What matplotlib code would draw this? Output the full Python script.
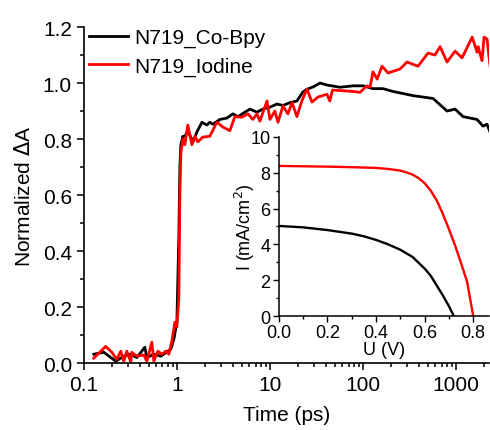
import numpy as np
import matplotlib
matplotlib.use("Agg")
import matplotlib.pyplot as plt

plt.rcParams['font.family'] = ['Liberation Sans', 'DejaVu Sans']

# transient absorption kinetics (time in ps, normalized dA)
t_cobpy = [0.128, 0.164, 0.221, 0.269, 0.320, 0.371, 0.453, 0.476, 0.566, 0.673,
           0.780, 0.861, 0.929, 1.0, 1.05, 1.077, 1.104, 1.16, 1.22, 1.31,
           1.49, 1.64, 1.86, 2.10, 2.26, 2.44, 2.90, 3.45, 4.0, 4.53,
           5.38, 6.1, 7.25, 8.4, 10, 11.9, 13.8, 16.4, 19.5, 22.6,
           25, 29, 34.5, 41, 56.6, 78, 100, 128, 164, 210,
           345, 566, 800, 975, 1190, 1680, 1950, 2150, 2320]
a_cobpy = [0.032, 0.039, 0.007, 0.025, 0.032, 0.02, 0.057, 0.02, 0.032, 0.025,
           0.04, 0.05, 0.086, 0.146, 0.45, 0.70, 0.78, 0.81, 0.81, 0.83,
           0.79, 0.825, 0.86, 0.85, 0.86, 0.853, 0.87, 0.875, 0.89, 0.88,
           0.896, 0.907, 0.896, 0.907, 0.914, 0.925, 0.92, 0.93, 0.936, 0.968,
           0.978, 0.986, 1.0, 0.993, 0.985, 0.99, 0.99, 0.98, 0.98, 0.97,
           0.955, 0.945, 0.90, 0.907, 0.88, 0.87, 0.846, 0.853, 0.825]

t_iodine = [0.128, 0.172, 0.200, 0.226, 0.250, 0.269, 0.290, 0.320, 0.328, 0.371,
            0.442, 0.476, 0.538, 0.566, 0.625, 0.690, 0.762, 0.820, 0.884, 0.952,
            1.0, 1.05, 1.077, 1.104, 1.16, 1.22, 1.31, 1.45, 1.56, 1.68,
            1.90, 2.26, 2.69, 3.12, 3.71, 4.2, 5.0, 5.8, 6.56, 7.25,
            7.8, 9.3, 10, 11.3, 12.2, 13.8, 15.6, 17.3, 19.5, 22,
            25, 28.3, 32.8, 41, 44, 47, 78, 93, 110, 119,
            128, 142, 160, 186, 250, 297, 390, 500, 594, 673,
            800, 975, 1160, 1490, 1680, 1725, 1900, 2000, 2150, 2320]
a_iodine = [0.018, 0.06, 0.039, 0.014, 0.043, 0.007, 0.043, 0.004, 0.039, 0.025,
            0.029, 0.007, 0.075, 0.007, 0.043, 0.032, 0.043, 0.032, 0.079, 0.146,
            0.13, 0.23, 0.60, 0.75, 0.80, 0.78, 0.85, 0.78, 0.81, 0.79,
            0.807, 0.81, 0.86, 0.843, 0.83, 0.88, 0.878, 0.89, 0.87, 0.89,
            0.864, 0.936, 0.87, 0.90, 0.86, 0.918, 0.89, 0.93, 0.88, 0.936,
            0.978, 0.932, 0.95, 0.96, 0.936, 0.975, 0.97, 0.967, 0.99, 0.985,
            1.04, 1.014, 1.06, 1.036, 1.05, 1.075, 1.06, 1.107, 1.10, 1.13,
            1.075, 1.114, 1.09, 1.164, 1.11, 1.13, 1.08, 1.164, 1.157, 1.06]

# J-V curves for inset
v_cobpy = [0.0, 0.1, 0.2, 0.3, 0.35, 0.4, 0.45, 0.5, 0.55, 0.6, 0.625, 0.65, 0.675, 0.7, 0.72]
j_cobpy = [5.03, 4.95, 4.8, 4.6, 4.45, 4.25, 4.0, 3.7, 3.3, 2.65, 2.25, 1.7, 1.15, 0.55, 0.0]
v_iodine = [0.0, 0.1, 0.2, 0.3, 0.4, 0.45, 0.5, 0.525, 0.55, 0.575, 0.6, 0.625, 0.65,
            0.675, 0.7, 0.725, 0.75, 0.775, 0.80]
j_iodine = [8.38, 8.36, 8.34, 8.31, 8.27, 8.21, 8.12, 8.02, 7.9, 7.7, 7.42, 7.0, 6.45,
            5.7, 4.85, 3.95, 2.95, 1.9, 0.0]

fig = plt.figure(figsize=(4.90, 4.31), dpi=100)
ax = fig.add_axes([0.171, 0.155, 0.827, 0.78])

ax.plot(t_cobpy, a_cobpy, color='black', lw=2.0, label='N719_Co-Bpy')
ax.plot(t_iodine, a_iodine, color='red', lw=2.0, label='N719_Iodine')
ax.set_xscale('log')
ax.set_xlim(0.1, 2260)
ax.set_ylim(0, 1.2)
ax.set_yticks(np.arange(0, 1.21, 0.2))
ax.set_yticks(np.arange(0.1, 1.2, 0.2), minor=True)
ax.set_xticks([0.1, 1, 10, 100, 1000])
ax.set_xticklabels(['0.1', '1', '10', '100', '1000'])
ax.set_yticklabels(['%.1f' % v for v in np.arange(0, 1.21, 0.2)])
ax.spines['top'].set_visible(False)
ax.spines['right'].set_visible(False)
for s in ['left', 'bottom']:
    ax.spines[s].set_linewidth(1.2)
ax.tick_params(which='both', direction='out', labelsize=15, width=1.1)
ax.tick_params(which='major', length=5)
ax.tick_params(which='minor', length=3)
ax.set_xlabel('Time (ps)', fontsize=15, labelpad=8)
ax.set_ylabel('Normalized $\\Delta$A', fontsize=15, labelpad=6)

ax.legend(loc='upper left', bbox_to_anchor=(0.01, 1.0), frameon=False, fontsize=15,
          handlelength=1.9, handletextpad=0.3, labelspacing=0.45,
          borderpad=0.05, borderaxespad=0)

# inset
ins = fig.add_axes([0.569, 0.2645, 0.429, 0.4155])
ins.patch.set_alpha(0)
ins.plot(v_cobpy, j_cobpy, color='black', lw=1.7)
ins.plot(v_iodine, j_iodine, color='red', lw=1.7)
ins.set_xlim(0, 0.865)
ins.set_ylim(0, 10)
ins.set_xticks([0.0, 0.2, 0.4, 0.6, 0.8])
ins.set_xticklabels(['0.0', '0.2', '0.4', '0.6', '0.8'])
ins.set_xticks([0.1, 0.3, 0.5, 0.7], minor=True)
ins.set_yticks([0, 2, 4, 6, 8, 10])
ins.set_yticks([1, 3, 5, 7, 9], minor=True)
ins.spines['top'].set_visible(False)
ins.spines['right'].set_visible(False)
for s in ['left', 'bottom']:
    ins.spines[s].set_linewidth(1.1)
ins.tick_params(which='both', direction='out', labelsize=13, width=1.0, pad=2)
ins.tick_params(which='major', length=4)
ins.tick_params(which='minor', length=2)
ins.set_xlabel('U (V)', fontsize=13, labelpad=0)
ins.set_ylabel('I (mA/cm$^2$)', fontsize=13, labelpad=-5)

fig.savefig('out.png', dpi=100)
